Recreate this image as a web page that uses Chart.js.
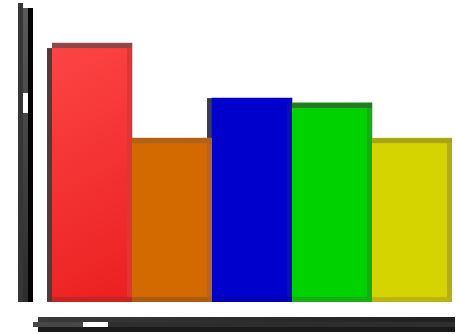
<!DOCTYPE html>
<html>
<head>
<meta charset="utf-8">
<script src="https://cdn.jsdelivr.net/npm/chart.js@4/dist/chart.umd.min.js"></script>
<style>
  html, body { margin: 0; padding: 0; background: #fff; }
  #wrap { width: 457px; height: 334px; }
</style>
</head>
<body>
<div id="wrap"><canvas id="barres"></canvas></div>
<script>
// =========================
// Données
// =========================
const categories = ["A", "B", "C", "D", "E"];
const valeurs = [86.6, 54.8, 68.2, 66.6, 54.8];
const echelleMax = 100;

// couleurs : remplissage, liseré haut, liseré droit, liseré bas, ombre gauche
const couleursFond = ["#f53434", "#d26a00", "#0000cc", "#00d200", "#d6d400"];
const couleursHaut = ["#8c4848", "#b0621c", "#0000cc", "#2a762a", "#a8a418"];
const couleursDroite = ["#e23434", "#b8621a", "#0a0ac0", "#10b010", "#b4b00e"];
const couleursBas = ["#c82424", "#b05a10", "#0000b4", "#14b014", "#b8b410"];
const couleursOmbre = ["#4e3c3c", "#3c3232", "#3c3c50", "#2a3a2a", "#8e8c1c"];

const EP = 5; // épaisseur des liserés

// =========================
// Dégradé du premier bâton
// =========================
function fondBaton(c) {
    const i = c.dataIndex;
    const area = c.chart.chartArea;
    if (i !== 0 || !area) return couleursFond[i];
    const g = c.chart.ctx.createLinearGradient(area.left, area.top, area.left + 160, area.bottom);
    g.addColorStop(0, "#ff4a4a");
    g.addColorStop(1, "#e81a1a");
    return g;
}

// =========================
// Liserés "3D" des bâtons
// =========================
const relief = {
    id: "relief",
    beforeDatasetsDraw(chart) {
        const ctx = chart.ctx;
        chart.getDatasetMeta(0).data.forEach((bar, i) => {
            const left = bar.x - bar.width / 2;
            const top = i === 0 ? bar.y + EP : bar.y;
            ctx.fillStyle = couleursOmbre[i];
            ctx.fillRect(left - EP, top, EP, bar.base - top);
        });
    },
    afterDatasetsDraw(chart) {
        const ctx = chart.ctx;
        chart.getDatasetMeta(0).data.forEach((bar, i) => {
            const left = bar.x - bar.width / 2;
            const right = bar.x + bar.width / 2;
            const h = bar.base - bar.y;
            ctx.fillStyle = couleursDroite[i];
            ctx.fillRect(right - EP, bar.y, EP, h);
            ctx.fillStyle = couleursBas[i];
            ctx.fillRect(left, bar.base - EP, bar.width, EP);
            ctx.fillStyle = couleursHaut[i];
            ctx.fillRect(left, bar.y, bar.width, EP);
        });
    }
};

// =========================
// Barres de défilement décoratives
// =========================
const defilement = {
    id: "defilement",
    afterDraw(chart) {
        const ctx = chart.ctx;
        const a = chart.chartArea;

        // verticale
        const vx = a.left - 34;
        ctx.fillStyle = "#363636";
        ctx.fillRect(vx, a.top, 5, a.bottom - a.top);
        const gv = ctx.createLinearGradient(0, a.top, 0, a.bottom);
        gv.addColorStop(0, "#5a5a5a");
        gv.addColorStop(1, "#2c2c2c");
        ctx.fillStyle = gv;
        ctx.fillRect(vx + 5, a.top + 5, 5, a.bottom - a.top - 5);
        ctx.fillStyle = "#050505";
        ctx.fillRect(vx + 10, a.top + 5, 5, a.bottom - a.top - 5);
        ctx.fillStyle = "#ffffff";
        ctx.fillRect(vx + 5, a.top + 90, 5, 20);

        // horizontale
        const hy = a.bottom + 15;
        const gh = ctx.createLinearGradient(a.left - 19, 0, a.right + 3, 0);
        gh.addColorStop(0, "#3a3a3a");
        gh.addColorStop(1, "#202020");
        ctx.fillStyle = gh;
        ctx.fillRect(a.left - 14, hy, a.right - a.left + 17, 5);
        ctx.fillStyle = "#2e2e2e";
        ctx.fillRect(a.left - 19, hy + 5, a.right - a.left + 22, 5);
        ctx.fillStyle = "#474747";
        ctx.fillRect(a.left - 19, hy + 5, 50, 5);
        ctx.fillStyle = "#ffffff";
        ctx.fillRect(a.left + 31, hy + 5, 25, 5);
        ctx.fillStyle = "#1a1a1a";
        ctx.fillRect(a.left - 14, hy + 10, a.right - a.left + 17, 5);
    }
};

new Chart(document.getElementById("barres").getContext("2d"), {
    type: "bar",
    data: {
        labels: categories,
        datasets: [{
            data: valeurs,
            backgroundColor: fondBaton,
            borderWidth: 0,
            barPercentage: 1,
            categoryPercentage: 1
        }]
    },
    options: {
        responsive: true,
        maintainAspectRatio: false,
        animation: false,
        layout: { padding: { left: 52, right: 5, top: 3, bottom: 32 } },
        plugins: { legend: { display: false }, tooltip: { enabled: false } },
        scales: {
            x: { display: false },
            y: { display: false, min: 0, max: echelleMax }
        }
    },
    plugins: [relief, defilement]
});
</script>
</body>
</html>
